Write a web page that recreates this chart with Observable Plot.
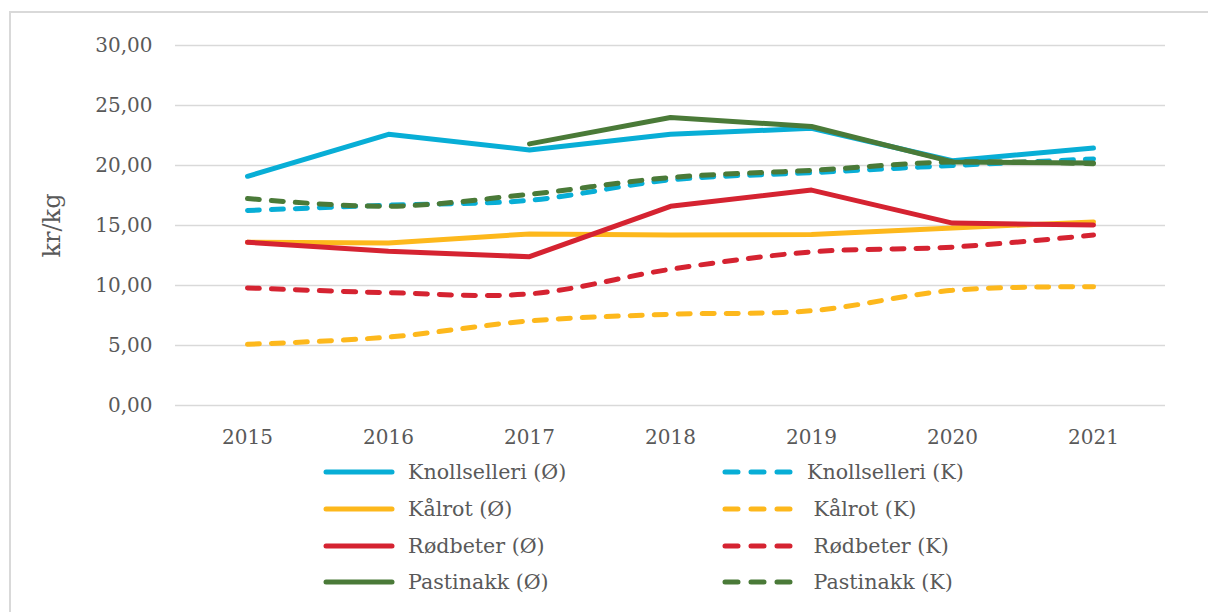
<!DOCTYPE html>
<html>
<head>
<meta charset="utf-8">
<script src="https://cdn.jsdelivr.net/npm/d3@7"></script>
<script src="https://cdn.jsdelivr.net/npm/@observablehq/plot@0.6"></script>
<style>
  html, body { margin: 0; padding: 0; background: #fff; }
  body { width: 1208px; height: 612px; position: relative; overflow: hidden; font-family: "DejaVu Serif", Georgia, serif; }
  #frame { position: absolute; left: 9px; top: 11px; width: 1220px; height: 640px; border: 2px solid #d9d9d9; box-sizing: border-box; pointer-events: none; }
  #chart { position: absolute; left: 0; top: 0; }
  #legend { position: absolute; left: 323px; top: 454px; display: grid; grid-template-columns: 399px auto; grid-auto-rows: 36.7px; }
  .item { display: flex; align-items: center; gap: 13px; font-size: 20.6px; color: #595959; white-space: pre; }
</style>
</head>
<body>
<div id="chart"></div>
<div id="legend"></div>
<div id="frame"></div>
<script>
// ---- data ----
const years = ["2015", "2016", "2017", "2018", "2019", "2020", "2021"];
const yTicks = [0, 5, 10, 15, 20, 25, 30];

const knollselleriO = [19.1, 22.6, 21.3, 22.6, 23.1, 20.4, 21.45];
const knollselleriK = [16.25, 16.7, 17.1, 18.8, 19.4, 20.0, 20.55];
const kalrotO       = [13.6, 13.55, 14.3, 14.2, 14.25, 14.8, 15.3];
const kalrotK       = [5.1, 5.7, 7.05, 7.6, 7.9, 9.6, 9.9];
const rodbeterO     = [13.6, 12.85, 12.4, 16.6, 17.95, 15.2, 15.05];
const rodbeterK     = [9.8, 9.4, 9.3, 11.35, 12.8, 13.2, 14.2];
const pastinakkO    = [null, null, 21.8, 24.0, 23.25, 20.3, 20.2];
const pastinakkK    = [17.25, 16.6, 17.6, 19.0, 19.6, 20.3, 20.15];

const seriesNames = [
  "Knollselleri (Ø)", "Knollselleri (K)",
  "Kålrot (Ø)", " Kålrot (K)",
  "Rødbeter (Ø)", " Rødbeter (K)",
  "Pastinakk (Ø)", " Pastinakk (K)"
];
const seriesValues = [knollselleriO, knollselleriK, kalrotO, kalrotK, rodbeterO, rodbeterK, pastinakkO, pastinakkK];

// ---- styles ----
const colors = ["#08AED6", "#08AED6", "#FDB81C", "#FDB81C", "#D52331", "#D52331", "#4A7A38", "#4A7A38"];
const dashed = [false, true, false, true, false, true, false, true];

const fmt = d => d.toFixed(2).replace(".", ",");

const marks = [
  Plot.ruleY(yTicks, {stroke: "#d9d9d9", strokeWidth: 1.6})
];
seriesValues.forEach((vals, i) => {
  const rows = years.map((y, j) => ({year: y, value: vals[j]})).filter(d => d.value != null);
  marks.push(Plot.line(rows, {
    x: "year", y: "value",
    stroke: colors[i],
    strokeWidth: 5,
    strokeLinecap: "round",
    strokeLinejoin: "round",
    strokeDasharray: dashed[i] ? "12,12" : null,
    curve: dashed[i] ? "catmull-rom" : "linear"
  }));
});

const chart = Plot.plot({
  width: 1208,
  height: 455,
  marginLeft: 175,
  marginRight: 43,
  marginTop: 45,
  marginBottom: 50,
  style: {fontFamily: "DejaVu Serif, Georgia, serif", fontSize: "20px", color: "#595959", background: "transparent"},
  x: {type: "point", domain: years, padding: 0.5, label: null, tickSize: 0, tickPadding: 24},
  y: {domain: [0, 30], ticks: yTicks, tickFormat: fmt, tickSize: 0, tickPadding: 23,
      label: "kr/kg", labelAnchor: "center", labelArrow: "none", labelOffset: 133},
  marks
});
chart.querySelectorAll("g[aria-label='y-axis label'] text").forEach(t => t.setAttribute("font-size", "24px"));
document.getElementById("chart").appendChild(chart);

// ---- legend ----
const legend = document.getElementById("legend");
seriesNames.forEach((name, i) => {
  const item = document.createElement("div");
  item.className = "item";
  const sw = dashed[i]
    ? `<svg width="72" height="10"><line x1="3" y1="5" x2="69" y2="5" stroke="${colors[i]}" stroke-width="5" stroke-linecap="round" stroke-dasharray="13,13"/></svg>`
    : `<svg width="72" height="10"><line x1="3" y1="5" x2="69" y2="5" stroke="${colors[i]}" stroke-width="5" stroke-linecap="round"/></svg>`;
  item.innerHTML = sw + `<span></span>`;
  item.querySelector("span").textContent = name;
  legend.appendChild(item);
});
</script>
</body>
</html>
